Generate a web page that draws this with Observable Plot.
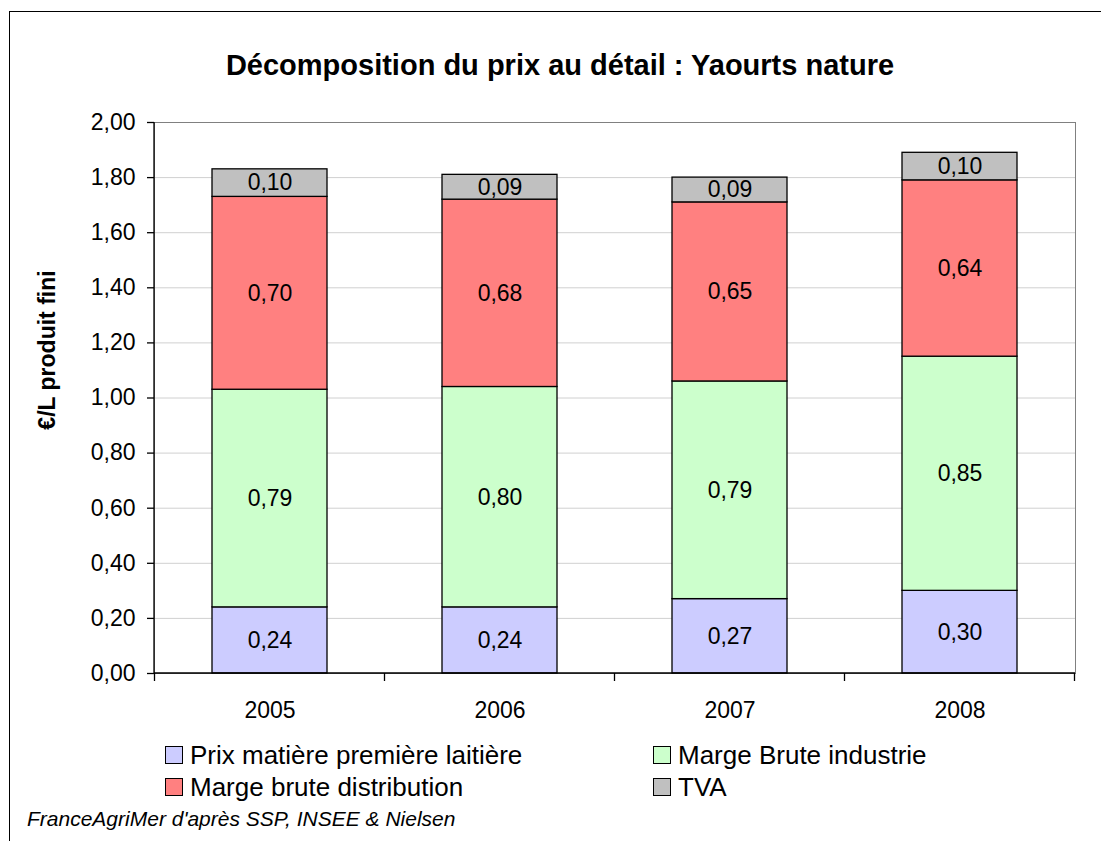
<!DOCTYPE html>
<html><head><meta charset="utf-8">
<script src="https://cdn.jsdelivr.net/npm/d3@7"></script>
<script src="https://cdn.jsdelivr.net/npm/@observablehq/plot@0.6"></script>
<style>
body{margin:0;background:#fff;font-family:"Liberation Sans",Arial,sans-serif;color:#000;}
#frame{position:absolute;left:9px;top:11px;width:1200px;height:900px;border:1.3px solid #000;box-sizing:border-box;}
#title{position:absolute;left:0;width:1120px;top:49px;text-align:center;font-weight:bold;font-size:29px;}
#chart{position:absolute;left:0;top:0;}
#ylabel{position:absolute;left:47px;top:350px;transform:translate(-50%,-50%) rotate(-90deg);font-weight:bold;font-size:23px;white-space:nowrap;}
.leg{position:absolute;font-size:26px;line-height:28px;white-space:nowrap;}
.sw{display:inline-block;width:16px;height:16px;border:1.3px solid #000;margin-right:7px;vertical-align:0px;}
#caption{position:absolute;left:27px;top:807px;font-style:italic;font-size:21px;}
</style></head>
<body>
<div id="frame"></div>
<div id="title">Décomposition du prix au détail : Yaourts nature</div>
<div id="chart"></div>
<div id="ylabel"></div>
<div id="legend"></div>
<div id="caption">FranceAgriMer d'après SSP, INSEE &amp; Nielsen</div>
<script>
const years = ["2005", "2006", "2007", "2008"];
const seriesNames = ["Prix matière première laitière", "Marge Brute industrie", "Marge brute distribution", "TVA"];
const seriesColors = ["#CCCCFF", "#CCFFCC", "#FF8080", "#C0C0C0"];
const prixLait = [0.24, 0.24, 0.27, 0.30];
const margeIndustrie = [0.79, 0.80, 0.79, 0.85];
const margeDistribution = [0.70, 0.68, 0.65, 0.64];
const tva = [0.10, 0.09, 0.09, 0.10];
const yTicks = [0, 0.2, 0.4, 0.6, 0.8, 1.0, 1.2, 1.4, 1.6, 1.8, 2.0];
const yLabel = "€/L produit fini";

const seriesValues = [prixLait, margeIndustrie, margeDistribution, tva];
const data = [];
seriesNames.forEach((s, si) => years.forEach((y, yi) => data.push({series: s, year: y, value: seriesValues[si][yi]})));
const fmt = v => v.toFixed(2).replace(".", ",");

function axesLines(index, scales, values, dim) {
  const x = scales.x;
  const step = x.step(), bw = x.bandwidth(), pad = (step - bw) / 2;
  const y0 = dim.height - dim.marginBottom;
  const g = d3.create("svg:g").attr("stroke", "#000").attr("stroke-width", 1.3);
  const edges = years.map(d => x(d) - pad).concat([x(years[years.length - 1]) + bw + pad]);
  for (const e of edges) g.append("line").attr("x1", e).attr("x2", e).attr("y1", y0).attr("y2", y0 + 8);
  g.append("line").attr("x1", dim.marginLeft).attr("x2", dim.marginLeft).attr("y1", dim.marginTop).attr("y2", y0);
  g.append("line").attr("x1", dim.marginLeft).attr("x2", dim.width - dim.marginRight).attr("y1", y0).attr("y2", y0);
  return g.node();
}

const chart = Plot.plot({
  width: 1101, height: 740,
  marginLeft: 154, marginRight: 26, marginTop: 122, marginBottom: 67,
  style: {fontFamily: "Liberation Sans, Arial, sans-serif", fontSize: "23px", color: "#000", background: "transparent"},
  x: {domain: years, paddingInner: 0.5, paddingOuter: 0.25, label: null},
  y: {domain: [0, 2], label: null},
  color: {domain: seriesNames, range: seriesColors},
  marks: [
    Plot.gridY(yTicks.filter(d => d > 0 && d < 2), {stroke: "#d0d0d0", strokeOpacity: 1}),
    Plot.frame({stroke: "#808080"}),
    Plot.barY(data, Plot.stackY({x: "year", y: "value", fill: "series", stroke: "#000", strokeWidth: 1.3})),
    Plot.text(data, Plot.stackY({x: "year", y: "value", z: "series", text: d => fmt(d.value), fontSize: 23, fill: "#000"})),
    Plot.axisY({ticks: yTicks, tickFormat: fmt, tickSize: 7, tickPadding: 12, strokeWidth: 1.3, stroke: "#000", fontSize: 23}),
    Plot.axisX({tickSize: 0, tickPadding: 28, fontSize: 23}),
    axesLines
  ]
});
document.getElementById("chart").appendChild(chart);
document.getElementById("ylabel").textContent = yLabel;

const legendPos = [[165, 741], [653, 741], [165, 773], [653, 773]];
const leg = document.getElementById("legend");
seriesNames.forEach((s, i) => {
  const d = document.createElement("div");
  d.className = "leg";
  d.style.left = legendPos[i][0] + "px";
  d.style.top = legendPos[i][1] + "px";
  d.innerHTML = `<span class="sw" style="background:${seriesColors[i]}"></span>${s}`;
  leg.appendChild(d);
});
</script>
</body></html>
